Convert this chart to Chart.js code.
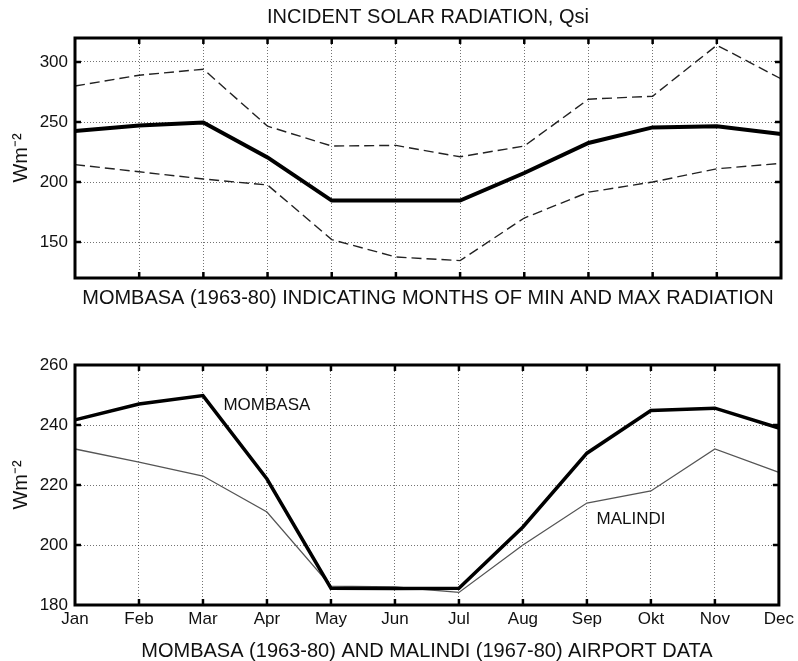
<!DOCTYPE html>
<html><head><meta charset="utf-8">
<script src="https://cdn.jsdelivr.net/npm/chart.js@4.4.1/dist/chart.umd.min.js"></script>
<style>
html,body{margin:0;padding:0;background:#fff;width:798px;height:661px;overflow:hidden}
#c1{position:absolute;left:0;top:0}
#c2{position:absolute;left:0;top:320px}
</style></head><body>
<canvas id="c1" width="798" height="320"></canvas>
<canvas id="c2" width="798" height="341"></canvas>
<script>
// ---- data ----
const months = ['Jan','Feb','Mar','Apr','May','Jun','Jul','Aug','Sep','Okt','Nov','Dec'];
const topMean = [242.5, 247, 249.5, 220.5, 184.5, 184.5, 184.5, 207.5, 232.5, 245.5, 246.5, 240];
const topMax  = [280, 289, 294, 246.5, 230, 230.5, 221, 230, 269, 271.5, 314, 286];
const topMin  = [214.5, 208.5, 202.5, 197.5, 152, 137.5, 134.5, 170, 191.5, 200, 211, 215.5];
const mombasa = [241.7, 247, 249.8, 222, 185.6, 185.5, 185.6, 206, 230.6, 244.8, 245.6, 239];
const malindi = [232, 227.6, 223, 211, 186.3, 186, 184.2, 200, 214, 218, 232, 224.2];
const topYTicks = [150, 200, 250, 300];
const bottomYTicks = [180, 200, 220, 240, 260];
const topTitle = 'INCIDENT SOLAR RADIATION, Qsi';
const topCaption = 'MOMBASA (1963-80) INDICATING MONTHS OF MIN AND MAX RADIATION';
const bottomCaption = 'MOMBASA (1963-80) AND MALINDI (1967-80) AIRPORT DATA';
const yTitle = 'Wm⁻²';
const seriesNames = ['MOMBASA', 'MALINDI'];
// label anchors in data coordinates (month index, value)
const seriesNameAnchors = [[2.32, 246.7], [8.15, 208.7]];

// ---- styling ----
const FONT = '"Liberation Sans", Arial, Helvetica, sans-serif';
const TXT = '#111';
const GRID = 'rgba(0,0,0,0.55)';

const framePlugin = {
  id: 'frame',
  afterDraw(chart) {
    const {ctx, chartArea: a, scales: {x, y}} = chart;
    const L = 6;
    ctx.save();
    ctx.strokeStyle = '#000';
    ctx.lineWidth = 2.5;
    ctx.beginPath();
    x.ticks.forEach((t, i) => {
      const px = x.getPixelForTick(i);
      if (px - a.left < 2 || a.right - px < 2) return;
      ctx.moveTo(px, a.top); ctx.lineTo(px, a.top + L);
      ctx.moveTo(px, a.bottom); ctx.lineTo(px, a.bottom - L);
    });
    y.ticks.forEach((t, i) => {
      const py = y.getPixelForTick(i);
      if (py - a.top < 2 || a.bottom - py < 2) return;
      ctx.moveTo(a.left, py); ctx.lineTo(a.left + L, py);
      ctx.moveTo(a.right, py); ctx.lineTo(a.right - L, py);
    });
    ctx.stroke();
    ctx.lineWidth = 3;
    ctx.strokeRect(a.left, a.top, a.right - a.left, a.bottom - a.top);
    ctx.restore();
  }
};

const namePlugin = {
  id: 'seriesNames',
  afterDatasetsDraw(chart) {
    const {ctx, scales: {x, y}} = chart;
    ctx.save();
    ctx.font = '17px ' + FONT;
    ctx.fillStyle = TXT;
    ctx.textBaseline = 'middle';
    ctx.textAlign = 'left';
    seriesNames.forEach((n, i) => {
      const [vx, vy] = seriesNameAnchors[i];
      ctx.fillText(n, x.getPixelForValue(vx), y.getPixelForValue(vy));
    });
    ctx.restore();
  }
};

function yAxis(min, max, tickList) {
  return {
    min, max,
    afterBuildTicks(s) { s.ticks = tickList.map(v => ({value: v})); },
    grid: {color: GRID, lineWidth: 1, drawTicks: false},
    border: {display: false, dash: [1, 2]},
    ticks: {color: TXT, font: {size: 17, family: FONT}, padding: 7},
    title: {display: true, text: yTitle, color: TXT, font: {size: 20, family: FONT}, padding: {top: 9.5, bottom: 0}},
    afterFit(s) { s.width = 75; }
  };
}

new Chart(document.getElementById('c1'), {
  type: 'line',
  data: {
    labels: months,
    datasets: [
      {data: topMean, borderColor: '#000', borderWidth: 4, pointRadius: 0, tension: 0},
      {data: topMax, borderColor: '#222', borderWidth: 1.4, borderDash: [10, 5], pointRadius: 0, tension: 0},
      {data: topMin, borderColor: '#222', borderWidth: 1.4, borderDash: [10, 5], pointRadius: 0, tension: 0}
    ]
  },
  options: {
    responsive: false, animation: false,
    layout: {padding: {left: 0, right: 17, top: 0, bottom: 0}},
    plugins: {
      legend: {display: false}, tooltip: {enabled: false},
      title: {display: true, text: topTitle, fullSize: false, color: TXT,
        font: {size: 20, family: FONT, weight: 'normal', lineHeight: 1.2}, padding: {top: 5, bottom: 9}}
    },
    scales: {
      x: {
        grid: {color: GRID, lineWidth: 1, drawTicks: false},
        border: {display: false, dash: [1, 2]},
        ticks: {display: false},
        title: {display: true, text: topCaption, color: TXT, font: {size: 20, family: FONT, lineHeight: 1.2}, padding: {top: 0, bottom: 9.5}},
        afterFit(s) { s.height = 42; }
      },
      y: yAxis(120, 320, topYTicks)
    }
  },
  plugins: [framePlugin]
});

new Chart(document.getElementById('c2'), {
  type: 'line',
  data: {
    labels: months,
    datasets: [
      {label: seriesNames[0], data: mombasa, borderColor: '#000', borderWidth: 3.5, pointRadius: 0, tension: 0},
      {label: seriesNames[1], data: malindi, borderColor: '#555', borderWidth: 1.3, pointRadius: 0, tension: 0}
    ]
  },
  options: {
    responsive: false, animation: false,
    layout: {padding: {left: 0, right: 17, top: 45, bottom: 0}},
    plugins: {legend: {display: false}, tooltip: {enabled: false}},
    scales: {
      x: {
        grid: {color: GRID, lineWidth: 1, drawTicks: false},
        border: {display: false, dash: [1, 2]},
        ticks: {color: TXT, font: {size: 17, family: FONT}, padding: 4, maxRotation: 0, autoSkip: false},
        title: {display: true, text: bottomCaption, color: TXT, font: {size: 20, family: FONT, lineHeight: 1.0}, padding: {top: 0, bottom: 0}},
        afterFit(s) { s.height = 56; }
      },
      y: yAxis(180, 260, bottomYTicks)
    }
  },
  plugins: [framePlugin, namePlugin]
});
</script>
</body></html>
